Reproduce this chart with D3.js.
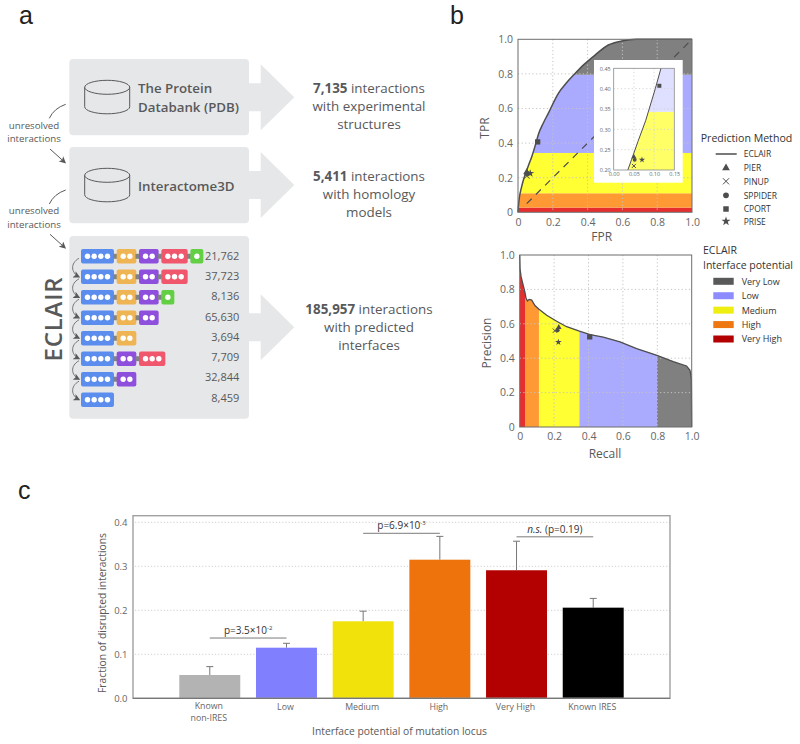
<!DOCTYPE html>
<html>
<head>
<meta charset="utf-8">
<script src="https://cdn.jsdelivr.net/npm/d3@7"></script>
<style>
  html, body { margin: 0; padding: 0; background: #fff; }
  svg { display: block; }
  text { font-family: "Open Sans", sans-serif; }
</style>
</head>
<body>
<svg id="chart" width="800" height="744"></svg>
<script>
// panel a
const rowDomains = [
    ["blue", "orange", "purple", "red", "green"],
    ["blue", "orange", "purple", "red"],
    ["blue", "orange", "purple", "green"],
    ["blue", "orange", "purple"],
    ["blue", "orange"],
    ["blue", "purple", "red"],
    ["blue", "purple"],
    ["blue"]
];
const rowCounts = ["21,762", "37,723", "8,136", "65,630", "3,694", "7,709", "32,844", "8,459"];
const domainDots = {blue: 4, orange: 2, purple: 2, red: 3, green: 1};
const domainColor = {blue: "#5b8dee", orange: "#efb453", purple: "#8d4fdc", red: "#f0566c", green: "#63cf45"};

// panel b, curves
const rocFpr = [0, 0.002, 0.006, 0.021, 0.035, 0.044, 0.06, 0.079, 0.103, 0.117, 0.145, 0.174, 0.232, 0.28, 0.324, 0.38, 0.443, 0.519, 0.596, 0.68, 1];
const rocTpr = [0, 0.03, 0.071, 0.148, 0.2, 0.225, 0.27, 0.321, 0.4, 0.45, 0.515, 0.572, 0.688, 0.75, 0.798, 0.855, 0.909, 0.967, 0.99, 1, 1];
const prRecall = [0, 0.002, 0.008, 0.02, 0.03, 0.037, 0.045, 0.055, 0.07, 0.08, 0.09, 0.112, 0.157, 0.215, 0.273, 0.347, 0.41, 0.486, 0.583, 0.68, 0.798, 0.893, 0.97, 0.99, 0.998, 1];
const prPrecision = [1, 0.92, 0.874, 0.825, 0.785, 0.748, 0.733, 0.742, 0.738, 0.72, 0.705, 0.685, 0.65, 0.615, 0.583, 0.557, 0.537, 0.523, 0.495, 0.456, 0.417, 0.38, 0.355, 0.33, 0.28, 0];

const rocBandEdges = [0, 0.027, 0.11, 0.343, 0.795, 1];
const prBandEdges = [0, 0.031, 0.112, 0.347, 0.798, 1];
const bandFill = ["#e62e2e", "#ff9933", "#ffff33", "#aaaaff", "#808080"];
const insetBandFill = ["#e62e2e", "#ff9933", "#ffff66", "#dfdfff", "#808080"];

// panel b, prediction methods
const methods = ["PIER", "PINUP", "SPPIDER", "CPORT", "PRISE"];
const methodFpr = [0.05, 0.05, 0.052, 0.113, 0.07];
const methodTpr = [0.232, 0.21, 0.225, 0.407, 0.225];
const methodRecall = [0.227, 0.205, 0.22, 0.407, 0.225];
const methodPrecision = [0.58, 0.56, 0.563, 0.524, 0.493];
const methodSymbol = [d3.symbolTriangle, d3.symbolTimes, d3.symbolCircle, d3.symbolSquare, d3.symbolStar];

const levels = ["Very Low", "Low", "Medium", "High", "Very High"];
const levelColor = ["#595959", "#8c8cff", "#eeee11", "#ee7711", "#b30000"];

// panel c
const barCats = ["Known\nnon-IRES", "Low", "Medium", "High", "Very High", "Known IRES"];
const barVals = [0.053, 0.115, 0.175, 0.315, 0.291, 0.206];
const barErrTop = [0.072, 0.125, 0.198, 0.368, 0.357, 0.227];
const barColor = ["#b3b3b3", "#8080ff", "#f0e20a", "#ee730c", "#b30000", "#000000"];

const svg = d3.select("#chart");
const textCol = "#58595b";
const boxCol = "#e6e7e8";

function label(parent, x, y, str, size, opts = {}) {
    return parent.append("text")
        .attr("x", x)
        .attr("y", y)
        .attr("font-size", size)
        .attr("fill", opts.fill || textCol)
        .attr("font-weight", opts.weight || 400)
        .attr("text-anchor", opts.anchor || "start")
        .attr("transform", opts.rotate ? `rotate(${opts.rotate}, ${x}, ${y})` : null)
        .text(str);
}

svg.append("defs").append("marker")
    .attr("id", "head")
    .attr("viewBox", "0 0 10 10")
    .attr("refX", 8)
    .attr("refY", 5)
    .attr("markerWidth", 7)
    .attr("markerHeight", 7)
    .attr("markerUnits", "userSpaceOnUse")
    .attr("orient", "auto")
    .append("path")
    .attr("d", "M0,0 L10,5 L0,10 L2.5,5 Z")
    .attr("fill", textCol);

// ---------- panel letters
[["a", 19, 24], ["b", 450, 24], ["c", 18, 499]].forEach(d => {
    svg.append("text")
        .attr("x", d[1])
        .attr("y", d[2])
        .attr("font-size", 25)
        .style("font-family", "'Liberation Sans', sans-serif")
        .attr("fill", "#222")
        .text(d[0]);
});

// ---------- panel a
const panelA = svg.append("g");

function bigArrow(midY) {
    panelA.append("path")
        .attr("d", `M249,${midY - 14} H260.7 V${midY - 33} L294.3,${midY} L260.7,${midY + 33} V${midY + 14} H249 Z`)
        .attr("fill", boxCol);
}

[[59, 76.3, 97.3], [147, 76.3, 185], [236, 182.7, 327.3]].forEach(d => {
    panelA.append("rect")
        .attr("x", 69.3)
        .attr("y", d[0])
        .attr("width", 179.7)
        .attr("height", d[1])
        .attr("rx", 4)
        .attr("fill", boxCol);
    bigArrow(d[2]);
});

function cylinder(top) {
    const cx = 107.2, rx = 22.5, ry = 7;
    panelA.append("path")
        .attr("d", `M${cx - rx},${top} V${top + 19.5} A${rx},${ry} 0 0 0 ${cx + rx},${top + 19.5} V${top}`)
        .attr("fill", "none")
        .attr("stroke", textCol)
        .attr("stroke-width", 1);
    panelA.append("ellipse")
        .attr("cx", cx)
        .attr("cy", top)
        .attr("rx", rx)
        .attr("ry", ry)
        .attr("fill", "none")
        .attr("stroke", textCol)
        .attr("stroke-width", 1);
}
cylinder(87.3);
cylinder(175.3);

label(panelA, 138, 93.3, "The Protein", 13.3, {weight: 600});
label(panelA, 138, 111.7, "Databank (PDB)", 13.3, {weight: 600});
label(panelA, 138, 191.3, "Interactome3D", 13.3, {weight: 600});

function summary(y, bold, rest, line2, line3) {
    const t = label(panelA, 369, y, "", 13.4, {anchor: "middle"});
    t.append("tspan").attr("font-weight", 700).text(bold);
    t.append("tspan").text(" " + rest);
    label(panelA, 369, y + 18, line2, 13.4, {anchor: "middle"});
    label(panelA, 369, y + 36, line3, 13.4, {anchor: "middle"});
}
summary(93.3, "7,135", "interactions", "with experimental", "structures");
summary(181.3, "5,411", "interactions", "with homology", "models");
summary(314, "185,957", "interactions", "with predicted", "interfaces");

[[129, 104.3], [214.3, 190]].forEach(d => {
    label(panelA, 34, d[0], "unresolved", 9.7, {anchor: "middle"});
    label(panelA, 34, d[0] + 13.4, "interactions", 9.7, {anchor: "middle"});
    panelA.append("path")
        .attr("d", `M65.7,${d[1]} Q54,${d[1] + 4} 49.3,${d[1] + 14}`)
        .attr("fill", "none")
        .attr("stroke", textCol);
    panelA.append("line")
        .attr("x1", 50)
        .attr("y1", d[0] + 20)
        .attr("x2", 65)
        .attr("y2", d[0] + 33.5)
        .attr("stroke", textCol)
        .attr("marker-end", "url(#head)");
});

label(panelA, 62, 361.5, "ECLAIR", 24, {weight: 600, rotate: -90}).attr("letter-spacing", 0.8);

const rowY = d3.scaleLinear().domain([0, 7]).range([256.3, 399.7]);
rowDomains.forEach((row, i) => {
    const cy = rowY(i);
    let x = 81;
    row.forEach((name, j) => {
        const n = domainDots[name];
        const w = n * 6.67 + 6.3;
        if (j > 0) {
            panelA.append("rect")
                .attr("x", x - 3.5)
                .attr("y", cy - 2.5)
                .attr("width", 4)
                .attr("height", 5)
                .attr("fill", "#808285");
        }
        panelA.append("rect")
            .attr("x", x)
            .attr("y", cy - 7.3)
            .attr("width", w)
            .attr("height", 14.6)
            .attr("rx", 2)
            .attr("fill", domainColor[name]);
        d3.range(n).forEach(k => {
            panelA.append("circle")
                .attr("cx", x + 6.5 + k * 6.67)
                .attr("cy", cy)
                .attr("r", 2.7)
                .attr("fill", "#fff");
        });
        x += w + 2.7;
    });
    label(panelA, 239.3, cy + 3.7 - i * 0.25, rowCounts[i], 11, {anchor: "end"});
    if (i < rowDomains.length - 1) {
        const y2 = rowY(i + 1);
        panelA.append("path")
            .attr("d", `M79,${cy + 2} C70,${cy + 7} 71,${y2 - 4} 79,${y2}`)
            .attr("fill", "none")
            .attr("stroke", textCol)
            .attr("stroke-width", 0.8)
            .attr("marker-end", "url(#head)");
    }
});

// ---------- panel b
function drawSymbol(g, x, y, i, size) {
    const isTimes = methods[i] === "PINUP";
    g.append("path")
        .attr("transform", `translate(${x}, ${y})`)
        .attr("d", d3.symbol().type(methodSymbol[i]).size(size)())
        .attr("fill", isTimes ? "none" : "#4d4d4d")
        .attr("stroke", isTimes ? "#4d4d4d" : "none")
        .attr("stroke-width", 1);
}

function curveArea(xs, ys, sx, sy, curve) {
    return d3.area()
        .x((d, i) => sx(xs[i]))
        .y0(sy.range()[0])
        .y1((d, i) => sy(ys[i]))
        .curve(curve)(xs);
}

function curveLine(xs, ys, sx, sy, curve) {
    return d3.line()
        .x((d, i) => sx(xs[i]))
        .y((d, i) => sy(ys[i]))
        .curve(curve)(xs);
}

function dottedGrid(g, sx, sy, xTicks, yTicks, color, right, bottom) {
    xTicks.forEach(t => {
        g.append("line")
            .attr("x1", sx(t)).attr("x2", sx(t))
            .attr("y1", 0).attr("y2", bottom)
            .attr("stroke", color)
            .attr("stroke-dasharray", "1.2,2.4");
    });
    yTicks.forEach(t => {
        g.append("line")
            .attr("y1", sy(t)).attr("y2", sy(t))
            .attr("x1", 0).attr("x2", right)
            .attr("stroke", color)
            .attr("stroke-dasharray", "1.2,2.4");
    });
}

function styleAxis(sel, size) {
    sel.select(".domain").remove();
    sel.selectAll("line").remove();
    sel.selectAll("text")
        .attr("font-size", size)
        .attr("fill", "#666");
}

const fmtUnit = d => d === 0 ? "0" : d.toFixed(1);
const unitTicks = [0, 0.2, 0.4, 0.6, 0.8, 1];

function unitAxes(g, sx, sy, w, h) {
    g.append("g")
        .attr("transform", `translate(0, ${h})`)
        .call(d3.axisBottom(sx).tickValues(unitTicks).tickFormat(fmtUnit).tickSize(0).tickPadding(6))
        .call(styleAxis, 10.5);
    g.append("g")
        .call(d3.axisLeft(sy).tickValues(unitTicks).tickFormat(fmtUnit).tickSize(0).tickPadding(5))
        .call(styleAxis, 10.5);
}

function frame(g, w, h, color, width) {
    g.append("rect")
        .attr("width", w)
        .attr("height", h)
        .attr("fill", "none")
        .attr("stroke", color)
        .attr("stroke-width", width);
}

// ROC
const rocW = 174, rocH = 173;
const roc = svg.append("g").attr("transform", "translate(518, 39.3)");
const rocX = d3.scaleLinear().domain([0, 1]).range([0, rocW]);
const rocY = d3.scaleLinear().domain([0, 1]).range([rocH, 0]);

svg.select("defs").append("clipPath").attr("id", "rocClip").append("path")
    .attr("d", curveArea(rocFpr, rocTpr, rocX, rocY, d3.curveMonotoneX));

const rocBands = roc.append("g").attr("clip-path", "url(#rocClip)");
bandFill.forEach((c, i) => {
    rocBands.append("rect")
        .attr("x", 0)
        .attr("width", rocW)
        .attr("y", rocY(rocBandEdges[i + 1]))
        .attr("height", rocY(rocBandEdges[i]) - rocY(rocBandEdges[i + 1]))
        .attr("fill", c);
});
dottedGrid(roc, rocX, rocY, [0.2, 0.4, 0.6, 0.8], [0.2, 0.4, 0.6, 0.8], "#c4c4c4", rocW, rocH);

roc.append("path")
    .attr("d", curveLine([0.05, 0.98], [0.05, 0.98], rocX, rocY, d3.curveLinear))
    .attr("stroke", "#4d4d4d")
    .attr("stroke-width", 1.2)
    .attr("stroke-dasharray", "7,6")
    .attr("fill", "none");
roc.append("path")
    .attr("d", curveLine(rocFpr, rocTpr, rocX, rocY, d3.curveMonotoneX))
    .attr("fill", "none")
    .attr("stroke", "#4d4d4d")
    .attr("stroke-width", 1.5);
frame(roc, rocW, rocH, "#6d6d6d", 1);
methods.forEach((m, i) => drawSymbol(roc, rocX(methodFpr[i]), rocY(methodTpr[i]), i, i === 3 ? 28 : 20));
unitAxes(roc, rocX, rocY, rocW, rocH);

// inset of the ROC corner
svg.append("rect")
    .attr("x", 594)
    .attr("y", 60)
    .attr("width", 88.7)
    .attr("height", 122.7)
    .attr("fill", "#fff");

const insetW = 60.6, insetH = 101.7;
const inset = svg.append("g").attr("transform", "translate(613.7, 68.3)");
const insetX = d3.scaleLinear().domain([0, 0.15]).range([0, insetW]);
const insetY = d3.scaleLinear().domain([0.2, 0.45]).range([insetH, 0]);

const insetDefs = svg.select("defs");
insetDefs.append("clipPath").attr("id", "insetBox").append("rect")
    .attr("width", insetW)
    .attr("height", insetH);
insetDefs.append("clipPath").attr("id", "insetClip").append("path")
    .attr("d", curveArea(rocFpr.concat([1]), rocTpr.concat([0]), insetX, insetY, d3.curveLinear));

const insetBody = inset.append("g").attr("clip-path", "url(#insetBox)");
const insetBands = insetBody.append("g").attr("clip-path", "url(#insetClip)");
insetBandFill.forEach((c, i) => {
    insetBands.append("rect")
        .attr("x", 0)
        .attr("width", insetW)
        .attr("y", insetY(rocBandEdges[i + 1]))
        .attr("height", Math.max(0, insetY(rocBandEdges[i]) - insetY(rocBandEdges[i + 1])))
        .attr("fill", c);
});
dottedGrid(insetBody, insetX, insetY, [0.05, 0.1], [0.25, 0.3, 0.35, 0.4], "#d5d5d5", insetW, insetH);
insetBody.append("path")
    .attr("d", curveLine(rocFpr, rocTpr, insetX, insetY, d3.curveLinear))
    .attr("fill", "none")
    .attr("stroke", "#4d4d4d")
    .attr("stroke-width", 1);
frame(inset, insetW, insetH, "#8a8a8a", 0.8);
methods.forEach((m, i) => drawSymbol(inset, insetX(methodFpr[i]), insetY(methodTpr[i]), i, i === 3 ? 16 : 12));

inset.append("g")
    .attr("transform", `translate(0, ${insetH})`)
    .call(d3.axisBottom(insetX).tickValues([0, 0.05, 0.1, 0.15]).tickFormat(d3.format(".2f")).tickSize(0).tickPadding(2))
    .call(styleAxis, 5.5);
inset.append("g")
    .call(d3.axisLeft(insetY).tickValues([0.2, 0.25, 0.3, 0.35, 0.4, 0.45]).tickFormat(d3.format(".2f")).tickSize(0).tickPadding(3))
    .call(styleAxis, 5.5);

label(svg, 489, 128, "TPR", 12, {anchor: "middle", rotate: -90});
label(svg, 601.7, 241, "FPR", 12, {anchor: "middle"});

// precision-recall
const prW = 172, prH = 172;
const pr = svg.append("g").attr("transform", "translate(519.7, 255)");
const prX = d3.scaleLinear().domain([0, 1]).range([0, prW]);
const prY = d3.scaleLinear().domain([0, 1]).range([prH, 0]);

svg.select("defs").append("clipPath").attr("id", "prClip").append("path")
    .attr("d", curveArea(prRecall, prPrecision, prX, prY, d3.curveLinear));

const prBands = pr.append("g").attr("clip-path", "url(#prClip)");
bandFill.forEach((c, i) => {
    prBands.append("rect")
        .attr("x", prX(prBandEdges[i]))
        .attr("width", prX(prBandEdges[i + 1]) - prX(prBandEdges[i]))
        .attr("y", 0)
        .attr("height", prH)
        .attr("fill", c);
});
dottedGrid(pr, prX, prY, [0.2, 0.4, 0.6, 0.8], [0.2, 0.4, 0.6, 0.8], "#c4c4c4", prW, prH);
pr.append("path")
    .attr("d", curveLine(prRecall, prPrecision, prX, prY, d3.curveLinear))
    .attr("fill", "none")
    .attr("stroke", "#4d4d4d")
    .attr("stroke-width", 1.3);
frame(pr, prW, prH, "#6d6d6d", 1);
methods.forEach((m, i) => drawSymbol(pr, prX(methodRecall[i]), prY(methodPrecision[i]), i, i === 3 ? 28 : 14));
unitAxes(pr, prX, prY, prW, prH);

label(svg, 490.5, 343, "Precision", 12, {anchor: "middle", rotate: -90});
label(svg, 605, 458, "Recall", 12, {anchor: "middle"});

// legends
label(svg, 700.7, 141.7, "Prediction Method", 10.6, {fill: "#333"});
const legendRowY = [154, 168, 181.3, 195.3, 209, 221.3];
svg.append("line")
    .attr("x1", 715.7)
    .attr("x2", 736.7)
    .attr("y1", legendRowY[0])
    .attr("y2", legendRowY[0])
    .attr("stroke", "#4d4d4d")
    .attr("stroke-width", 1.5);
label(svg, 743.7, legendRowY[0] + 3.2, "ECLAIR", 8.5, {fill: "#333"});
methods.forEach((m, i) => {
    const y = legendRowY[i + 1];
    drawSymbol(svg, 726, y, i, i === 3 ? 30 : 26);
    label(svg, 743.7, y + 3.2, m, 8.5, {fill: "#333"});
});

label(svg, 703, 254, "ECLAIR", 10.5, {fill: "#333"});
label(svg, 703, 268.7, "Interface potential", 10.5, {fill: "#333"});
levels.forEach((name, i) => {
    const y = d3.scaleLinear().domain([0, 4]).range([281.3, 339])(i);
    svg.append("rect")
        .attr("x", 713.3)
        .attr("y", y - 3.5)
        .attr("width", 20.4)
        .attr("height", 7)
        .attr("fill", levelColor[i]);
    label(svg, 741.7, y + 3.4, name, 9, {fill: "#333"});
});

// ---------- panel c
const barW = 537, barH = 182.6;
const bars = svg.append("g").attr("transform", "translate(133, 515.7)");
const barX = d3.scaleBand()
    .domain(barCats)
    .range([46.3, 490.7])
    .paddingInner(0.205);
const barY = d3.scaleLinear().domain([0, 0.4]).range([barH, 6.6]);

[0.1, 0.2, 0.3, 0.4].forEach(t => {
    bars.append("line")
        .attr("x1", 2).attr("x2", barW)
        .attr("y1", barY(t)).attr("y2", barY(t))
        .attr("stroke", "#cfcfcf")
        .attr("stroke-dasharray", "1.2,2");
});

barCats.forEach((c, i) => {
    const mid = barX(c) + barX.bandwidth() / 2;
    bars.append("line")
        .attr("x1", mid).attr("x2", mid)
        .attr("y1", barY(barVals[i])).attr("y2", barY(barErrTop[i]))
        .attr("stroke", "#777");
    bars.append("line")
        .attr("x1", mid - 3.5).attr("x2", mid + 3.5)
        .attr("y1", barY(barErrTop[i])).attr("y2", barY(barErrTop[i]))
        .attr("stroke", "#777");
    bars.append("rect")
        .attr("x", barX(c))
        .attr("y", barY(barVals[i]))
        .attr("width", barX.bandwidth())
        .attr("height", barH - barY(barVals[i]))
        .attr("fill", barColor[i]);
});

frame(bars, barW, barH, "#a0a0a0", 1.4);
bars.append("line")
    .attr("x1", 0).attr("x2", barW)
    .attr("y1", barH).attr("y2", barH)
    .attr("stroke", "#6d6d6d")
    .attr("stroke-width", 1);

bars.append("g")
    .call(d3.axisLeft(barY).tickValues([0, 0.1, 0.2, 0.3, 0.4]).tickFormat(d3.format(".1f")).tickSize(0).tickPadding(5.5))
    .call(styleAxis, 9.5);

// category labels, the first one takes two lines
barCats.forEach(c => {
    const mid = barX(c) + barX.bandwidth() / 2 - 1;
    const parts = c.split("\n");
    parts.forEach((part, k) => {
        label(bars, mid, barH + (parts.length > 1 ? 10.8 : 11.5) + k * 12.2, part, 8.8, {anchor: "middle", fill: "#666"});
    });
});

label(svg, 105.5, 613, "Fraction of disrupted interactions", 10.3, {anchor: "middle", rotate: -90});
label(svg, 399.5, 735, "Interface potential of mutation locus", 10.3, {anchor: "middle"});

function pBracket(i, j, yVal, parts) {
    const x1 = barX(barCats[i]) + barX.bandwidth() / 2;
    const x2 = barX(barCats[j]) + barX.bandwidth() / 2;
    const y = barY(yVal);
    bars.append("line")
        .attr("x1", x1).attr("x2", x2)
        .attr("y1", y).attr("y2", y)
        .attr("stroke", "#595959")
        .attr("stroke-width", 0.8);
    const t = label(bars, (x1 + x2) / 2, y - 3.8, "", 10, {anchor: "middle", fill: "#333"});
    parts.forEach(p => {
        const s = t.append("tspan").text(p.s);
        if (p.italic) s.attr("font-style", "italic");
        if (p.sup) s.attr("baseline-shift", "super").attr("font-size", 6);
    });
}
pBracket(0, 1, 0.137, [{s: "p=3.5×10"}, {s: "-2", sup: true}]);
pBracket(2, 3, 0.375, [{s: "p=6.9×10"}, {s: "-3", sup: true}]);
pBracket(4, 5, 0.367, [{s: "n.s.", italic: true}, {s: " (p=0.19)"}]);
</script>
</body>
</html>
